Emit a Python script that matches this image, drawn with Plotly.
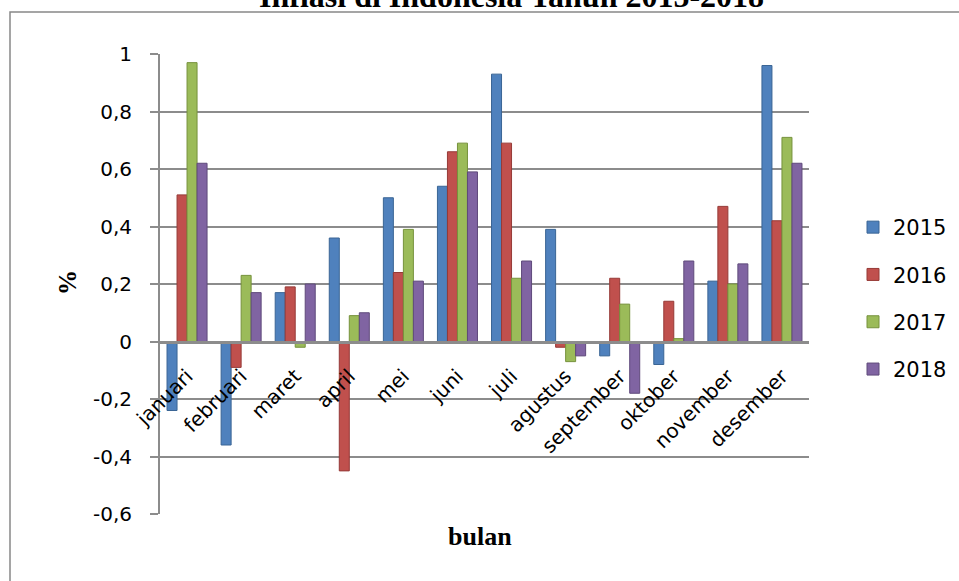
import plotly.graph_objects as go

bulan = ["januari", "februari", "maret", "april", "mei", "juni", "juli",
         "agustus", "september", "oktober", "november", "desember"]
tahun = ["2015", "2016", "2017", "2018"]
inflasi_2015 = [-0.24, -0.36, 0.17, 0.36, 0.50, 0.54, 0.93, 0.39, -0.05, -0.08, 0.21, 0.96]
inflasi_2016 = [0.51, -0.09, 0.19, -0.45, 0.24, 0.66, 0.69, -0.02, 0.22, 0.14, 0.47, 0.42]
inflasi_2017 = [0.97, 0.23, -0.02, 0.09, 0.39, 0.69, 0.22, -0.07, 0.13, 0.01, 0.20, 0.71]
inflasi_2018 = [0.62, 0.17, 0.20, 0.10, 0.21, 0.59, 0.28, -0.05, -0.18, 0.28, 0.27, 0.62]
y_tickvals = [1, 0.8, 0.6, 0.4, 0.2, 0, -0.2, -0.4, -0.6]
y_ticktext = ["1", "0,8", "0,6", "0,4", "0,2", "0", "-0,2", "-0,4", "-0,6"]

series = [inflasi_2015, inflasi_2016, inflasi_2017, inflasi_2018]
colors = ["#4F81BD", "#C0504D", "#9BBB59", "#8064A2"]
edge = ["#3A6595", "#963A37", "#76923C", "#5F4A7B"]

W, H = 959, 581
L, R, T, B = 160, 150, 54, 67
pw, ph = W - L - R, H - T - B
SANS = "DejaVu Sans, Verdana, sans-serif"
SERIF = "Liberation Serif, Times New Roman, serif"


def px_x(x):
    return (x - L) / pw


def px_y(y):
    return (H - B - y) / ph


fig = go.Figure()
for name, vals, c, e in zip(tahun, series, colors, edge):
    fig.add_trace(go.Bar(
        x=bulan, y=vals, name=name, legendgroup=name,
        marker=dict(color=c, line=dict(color=e, width=1)),
    ))

ymin, ymax = -0.6, 1.0
zero_pos = (0 - ymin) / (ymax - ymin)

fig.update_layout(
    width=W, height=H,
    margin=dict(l=L, r=R, t=T, b=B, autoexpand=False),
    paper_bgcolor="white", plot_bgcolor="white",
    barmode="group", bargap=0.26, bargroupgap=0,
    font=dict(family=SANS, color="black"),
    xaxis=dict(
        type="category", range=[-0.5, 11.5],
        anchor="free", position=zero_pos,
        showline=True, linecolor="#8C8C8C", linewidth=3,
        ticks="", tickangle=-45, ticklabelstandoff=13,
        tickfont=dict(size=20, color="black"),
        showgrid=False, automargin=False,
    ),
    yaxis=dict(
        range=[ymin, ymax], domain=[0, 1],
        tickvals=y_tickvals, ticktext=y_ticktext,
        tickfont=dict(size=20, color="black"),
        ticks="outside", ticklen=8, tickcolor="#8C8C8C", tickwidth=2,
        ticklabelstandoff=14,
        showline=True, linecolor="#8C8C8C", linewidth=2,
        showgrid=True, gridcolor="#8C8C8C", gridwidth=2,
        zeroline=False, automargin=False,
    ),
    legend=dict(
        x=px_x(853), xanchor="left",
        y=px_y(207), yanchor="top",
        font=dict(size=21, color="black"),
        tracegroupgap=17, bgcolor="rgba(0,0,0,0)",
        itemwidth=30,
    ),
    showlegend=True,
    annotations=[
        dict(text="<b>Inflasi di Indonesia Tahun 2015-2018</b>", xref="paper", yref="paper",
             x=px_x(511), y=px_y(-4), xanchor="center", yanchor="middle",
             showarrow=False, font=dict(family=SERIF, size=32, color="black")),
        dict(text="<b>bulan</b>", xref="paper", yref="paper",
             x=px_x(480), y=px_y(536), xanchor="center", yanchor="middle",
             showarrow=False, font=dict(family=SERIF, size=26, color="black")),
        dict(text="<b>%</b>", xref="paper", yref="paper",
             x=px_x(67), y=px_y(283), xanchor="center", yanchor="middle",
             textangle=-90, showarrow=False,
             font=dict(family=SERIF, size=25, color="black")),
    ],
    shapes=[
        dict(type="rect", xref="paper", yref="paper",
             x0=px_x(10), x1=px_x(W + 20),
             y0=px_y(H + 20), y1=px_y(12),
             line=dict(color="#888888", width=1.5), fillcolor="rgba(0,0,0,0)", layer="below"),
    ],
)

fig.write_html("out.html")
